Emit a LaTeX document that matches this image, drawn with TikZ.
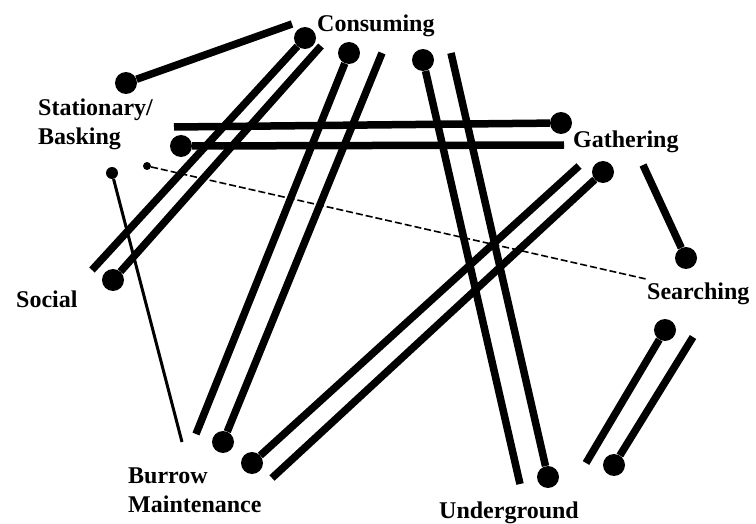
\documentclass[tikz,border=0pt]{standalone}
\usepackage{fontspec}
\setmainfont{Liberation Serif}
\usetikzlibrary{calc}

\begin{document}
\begin{tikzpicture}[x=1pt,y=-1pt,
	lbl/.style={font=\fontsize{24}{29}\selectfont\bfseries, inner sep=0pt, align=left},
	dot/.style={circle, fill, inner sep=0pt, minimum size=22pt},
	smalldot/.style={circle, fill, inner sep=0pt, minimum size=12pt},
	tinydot/.style={circle, fill, inner sep=0pt, minimum size=8pt},
	link/.style={line width=7.5pt},
	thinlink/.style={line width=3pt},
	dashlink/.style={line width=1.6pt, dash pattern=on 7pt off 3pt}]
	\useasboundingbox (0,0) rectangle (756,524);
	% states
	\node[lbl,anchor=base west] (con) at (317,32) {Consuming};
	\node[lbl,anchor=base west] (sta) at (38,145) {Stationary/\\Basking};
	\node[lbl,anchor=base west] (gat) at (573,148) {Gathering};
	\node[lbl,anchor=base west] (soc) at (16,307) {Social};
	\node[lbl,anchor=base west] (sea) at (647,299) {Searching};
	\node[lbl,anchor=base west] (bur) at (128,512) {Burrow\\Maintenance};
	\node[lbl,anchor=base west] (und) at (439,518) {Underground};
	% line ends
	\node[dot] (sta-con) at (126,83) {};
	\coordinate (con-sta) at (292,24);
	\node[dot] (con-soc) at (305,38) {};
	\coordinate (soc-con) at (92,270);
	\coordinate (con-soc2) at (321,46);
	\node[dot] (soc-con2) at (113,280) {};
	\node[dot] (con-bur) at (349,53) {};
	\coordinate (bur-con) at (196,434);
	\coordinate (con-bur2) at (382,53);
	\node[dot] (bur-con2) at (223,442) {};
	\node[dot] (con-und) at (423,60) {};
	\coordinate (und-con) at (520,484);
	\coordinate (con-und2) at (451,53);
	\node[dot] (und-con2) at (548,477) {};
	\coordinate (sta-gat) at (174,127);
	\node[dot] (gat-sta) at (561,123) {};
	\node[dot] (sta-gat2) at (181,146) {};
	\coordinate (gat-sta2) at (564,145);
	\node[dot] (bur-gat) at (252,463) {};
	\coordinate (gat-bur) at (579,166);
	\coordinate (bur-gat2) at (272,478);
	\node[dot] (gat-bur2) at (603,172) {};
	\coordinate (gat-sea) at (643,165);
	\node[dot] (sea-gat) at (686,258) {};
	\node[dot] (sea-und) at (665,330) {};
	\coordinate (und-sea) at (586,463);
	\coordinate (sea-und2) at (693,337);
	\node[dot] (und-sea2) at (614,465) {};
	\node[smalldot] (sta-bur) at (112,173) {};
	\coordinate (bur-sta) at (182,442);
	\node[tinydot] (sta-sea) at (147,166) {};
	\coordinate (sea-sta) at (646,279);
	% transitions
	\draw[link] (sta-con) -- (con-sta);
	\draw[link] (con-soc) -- (soc-con);
	\draw[link] (con-soc2) -- (soc-con2);
	\draw[link] (con-bur) -- (bur-con);
	\draw[link] (con-bur2) -- (bur-con2);
	\draw[link] (con-und) -- (und-con);
	\draw[link] (con-und2) -- (und-con2);
	\draw[link] (sta-gat) -- (gat-sta);
	\draw[link] (sta-gat2) -- (gat-sta2);
	\draw[link] (bur-gat) -- (gat-bur);
	\draw[link] (bur-gat2) -- (gat-bur2);
	\draw[link] (gat-sea) -- (sea-gat);
	\draw[link] (sea-und) -- (und-sea);
	\draw[link] (sea-und2) -- (und-sea2);
	\draw[thinlink] (sta-bur) -- (bur-sta);
	\draw[dashlink] (sta-sea) -- (sea-sta);
\end{tikzpicture}
\end{document}
